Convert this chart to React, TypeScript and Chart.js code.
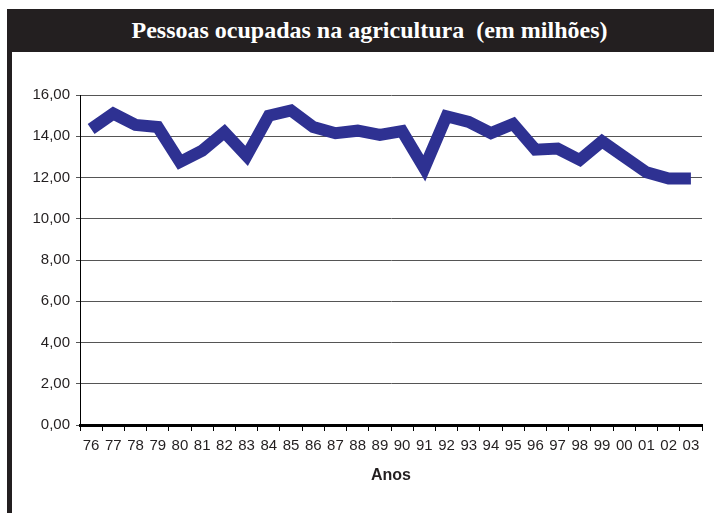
import React, { useEffect, useRef } from "react";
import { Chart, registerables } from "chart.js";

Chart.register(...registerables);

const titleText = "Pessoas ocupadas na agricultura  (em milhões)";
const xAxisTitle = "Anos";
const years = ["76","77","78","79","80","81","82","83","84","85","86","87","88","89","90","91","92","93","94","95","96","97","98","99","00","01","02","03"];
const people = [14.35,15.1,14.55,14.45,12.75,13.3,14.2,13.05,15.0,15.25,14.45,14.15,14.27,14.06,14.25,12.45,14.97,14.7,14.15,14.6,13.35,13.4,12.85,13.75,13.0,12.25,11.95,11.95];
const yMin = 0;
const yMax = 16;
const yStep = 2;

export default function App() {
  const ref = useRef<HTMLCanvasElement | null>(null);
  useEffect(() => {
    if (!ref.current) return;
    const chart = new Chart(ref.current, {
      type: "line",
      data: {
        labels: years,
        datasets: [
          {
            data: people,
            borderColor: "#2e3192",
            backgroundColor: "#2e3192",
            borderWidth: 12,
            pointRadius: 0,
            tension: 0,
            borderJoinStyle: "miter",
            borderCapStyle: "butt",
            fill: false,
          },
        ],
      },
      options: {
        animation: false,
        responsive: false,
        maintainAspectRatio: false,
        layout: { padding: { top: 43, right: 12, bottom: 28, left: 0 } },
        plugins: { legend: { display: false }, tooltip: { enabled: false }, title: { display: false } },
        scales: {
          x: {
            type: "category",
            offset: true,
            afterFit: (s: any) => { s.height = 60; },
            grid: { offset: true, drawOnChartArea: false, drawTicks: true, tickLength: 6, color: "#000", lineWidth: 1 },
            border: { display: true, color: "#000", width: 3 },
            ticks: { color: "#231f20", padding: 6, maxRotation: 0, autoSkip: false, font: { family: "'Liberation Sans', Arial, sans-serif", size: 15 } },
            title: { display: true, text: xAxisTitle, color: "#231f20", padding: { top: 0, bottom: 0 }, font: { family: "'Liberation Sans', Arial, sans-serif", size: 16, weight: "bold" } },
          },
          y: {
            min: yMin,
            max: yMax,
            afterFit: (s: any) => { s.width = 68; },
            grid: { color: "#555", lineWidth: 1, drawTicks: true, tickLength: 4 },
            border: { display: true, color: "#000", width: 1 },
            ticks: {
              stepSize: yStep,
              padding: 6,
              color: "#231f20",
              font: { family: "'Liberation Sans', Arial, sans-serif", size: 15 },
              callback: (v: any) => Number(v).toFixed(2).replace(".", ","),
            },
          },
        },
      },
    });
    return () => chart.destroy();
  }, []);

  return (
    <div style={{ position: "fixed", left: 0, top: 0, width: 714, height: 513, background: "#fff", overflow: "hidden" }}>
      <div
        style={{
          position: "absolute",
          left: 7,
          top: 9,
          width: 725,
          height: 43,
          background: "#231f20",
          color: "#fff",
          fontFamily: "'Liberation Serif', 'Times New Roman', serif",
          fontWeight: "bold",
          fontSize: 24,
          lineHeight: "43px",
          textAlign: "center",
          whiteSpace: "pre",
        }}
      >
        {titleText}
      </div>
      <div style={{ position: "absolute", left: 7, top: 52, width: 5, height: 461, background: "#231f20" }} />
      <canvas ref={ref} width={702} height={461} style={{ position: "absolute", left: 12, top: 52, width: 702, height: 461 }} />
    </div>
  );
}
